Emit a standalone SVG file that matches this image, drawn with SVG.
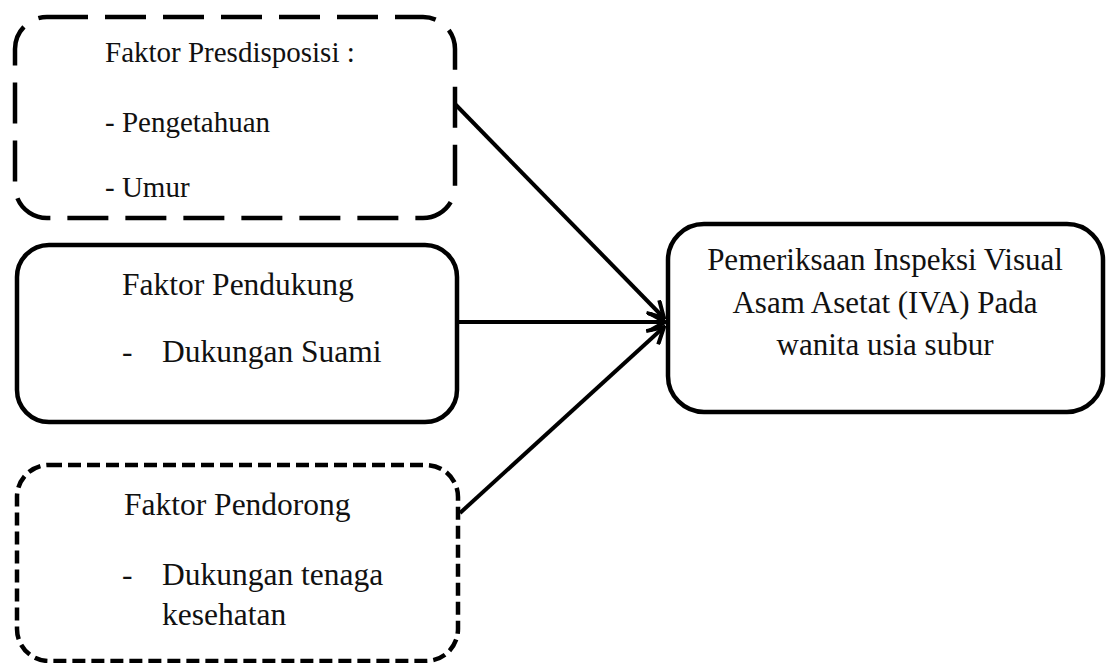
<svg xmlns="http://www.w3.org/2000/svg" width="1107" height="663" viewBox="0 0 1107 663">
<style>
.box{fill:#fff;stroke:#000;stroke-width:4.5}
.long{stroke-dasharray:41 17}
.short{stroke-dasharray:13 6}
.t{font-family:"Liberation Serif","Times New Roman",serif;fill:#111}
.conn line{stroke:#000;stroke-width:4;fill:none}
</style>
<defs>
<marker id="ah" viewBox="0 0 20 20" refX="18" refY="10" markerWidth="20" markerHeight="20" markerUnits="userSpaceOnUse" orient="auto">
<path d="M2,1 L18,10 L2,19" fill="none" stroke="#000" stroke-width="4"/>
</marker>
</defs>
<rect width="1107" height="663" fill="#fff"/>
<g id="node-predisposisi">
<rect class="box long" x="15" y="17" width="440" height="201" rx="32"/>
<text class="t" x="105" y="62" font-size="29">Faktor Presdisposisi :</text>
<text class="t" x="105" y="132" font-size="29">- Pengetahuan</text>
<text class="t" x="105" y="197" font-size="29">- Umur</text>
</g>
<g id="node-pendukung">
<rect class="box" x="17" y="245" width="440" height="177" rx="32"/>
<text class="t" x="122" y="295" font-size="31.5">Faktor Pendukung</text>
<text class="t" x="122" y="362" font-size="31.5">-</text>
<text class="t" x="162" y="362" font-size="31.5">Dukungan Suami</text>
</g>
<g id="node-pendorong">
<rect class="box short" x="17" y="465" width="441" height="196" rx="32"/>
<text class="t" x="124" y="515" font-size="31.5">Faktor Pendorong</text>
<text class="t" x="122" y="585" font-size="31.5">-</text>
<text class="t" x="162" y="585" font-size="31.5">Dukungan tenaga</text>
<text class="t" x="162" y="625" font-size="31.5">kesehatan</text>
</g>
<g id="node-iva">
<rect class="box" x="668" y="224" width="435" height="188" rx="36"/>
<text class="t" x="885" y="270" font-size="31" text-anchor="middle">Pemeriksaan Inspeksi Visual</text>
<text class="t" x="885" y="313" font-size="31" text-anchor="middle">Asam Asetat (IVA) Pada</text>
<text class="t" x="885" y="355" font-size="31" text-anchor="middle">wanita usia subur</text>
</g>
<g id="connectors" class="conn">
<line x1="455" y1="104" x2="664" y2="318" marker-end="url(#ah)"/>
<line x1="457" y1="322" x2="665" y2="322" marker-end="url(#ah)"/>
<line x1="460" y1="513" x2="664" y2="327" marker-end="url(#ah)"/>
</g>
</svg>
